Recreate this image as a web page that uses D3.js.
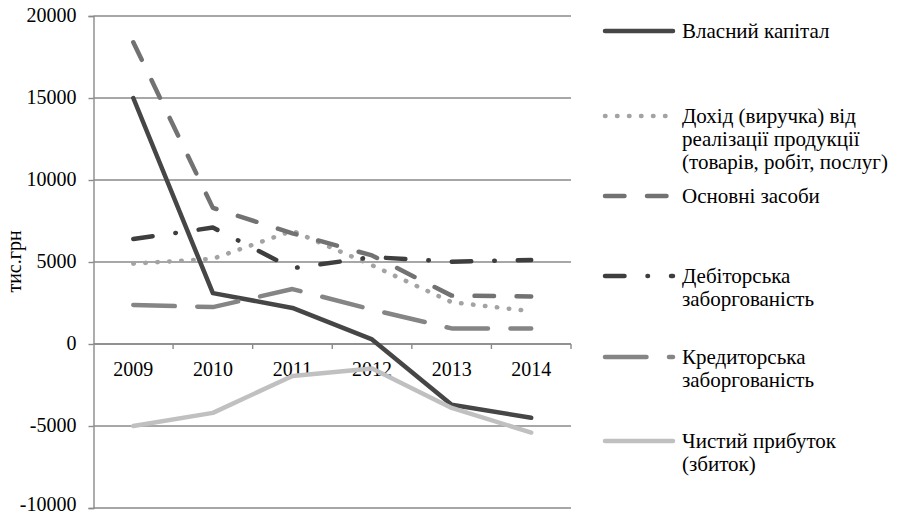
<!DOCTYPE html>
<html>
<head>
<meta charset="utf-8">
<script src="https://cdn.jsdelivr.net/npm/d3@7"></script>
<style>
  html, body { margin: 0; padding: 0; background: #fff; }
  svg { display: block; }
</style>
</head>
<body>
<svg id="chart" width="902" height="516"></svg>
<script>
// Years on the category axis
const years = ["2009", "2010", "2011", "2012", "2013", "2014"];

// Series values, тис.грн
const equity      = [15000, 3100, 2200, 280, -3700, -4500];
const revenue     = [4900, 5200, 6900, 4800, 2550, 2000];
const fixedAssets = [18400, 8300, 6750, 5400, 2950, 2900];
const receivables = [6400, 7100, 4620, 5300, 5020, 5120];
const payables    = [2380, 2250, 3350, 2100, 950, 950];
const netProfit   = [-5000, -4200, -1950, -1500, -3900, -5400];

// Value axis ticks
const yTicks = [-10000, -5000, 0, 5000, 10000, 15000, 20000];

// Legend labels (line breaks as wrapped in the legend)
const seriesNames = [
  ["Власний капітал"],
  ["Дохід (виручка) від", "реалізації продукції", "(товарів, робіт, послуг)"],
  ["Основні засоби"],
  ["Дебіторська", "заборгованість"],
  ["Кредиторська", "заборгованість"],
  ["Чистий прибуток", "(збиток)"]
];
const seriesValues = [equity, revenue, fixedAssets, receivables, payables, netProfit];

// Line styles per series
const styles = [
  { color: "#464646", dash: null },
  { color: "#a3a3a3", dash: "0.5,11.5" },
  { color: "#727272", dash: "19.5,22.5" },
  { color: "#3e3e3e", dash: "19.5,23,0.5,23" },
  { color: "#858585", dash: "41.5,22.5" },
  { color: "#c0c0c0", dash: null }
];
const lineWidth = 4.5;
const FONT = "'Liberation Serif', 'Times New Roman', serif";

const svg = d3.select("#chart");
const plot = { left: 93.5, right: 571, top: 16, bottom: 508 };

const x = d3.scaleBand().domain(years).range([plot.left, plot.right]).paddingInner(0).paddingOuter(0);
const y = d3.scaleLinear().domain([-10000, 20000]).range([plot.bottom, plot.top]);
const cx = d => x(d) + x.bandwidth() / 2;

const gridColor = "#8a8a8a";

// Horizontal gridlines
svg.append("g")
  .selectAll("line")
  .data(yTicks)
  .join("line")
  .attr("x1", plot.left).attr("x2", plot.right)
  .attr("y1", d => y(d)).attr("y2", d => y(d))
  .attr("stroke", gridColor).attr("stroke-width", 1.4);

// Value axis with outward ticks (plain hyphen for negatives)
const yAxis = svg.append("g")
  .attr("transform", `translate(${plot.left},0)`)
  .call(d3.axisLeft(y).tickValues(yTicks).tickSize(5).tickPadding(12).tickFormat(d => String(d)));
yAxis.attr("font-family", FONT).attr("font-size", 20);
yAxis.select(".domain").attr("stroke", gridColor).attr("stroke-width", 1.4);
yAxis.selectAll(".tick line").attr("stroke", gridColor).attr("stroke-width", 1.4);
// lowest label sits against the bottom edge, so lift it a little
yAxis.selectAll(".tick text").attr("fill", "#000")
  .attr("dy", d => d === yTicks[0] ? "0.12em" : "0.27em");

// Category axis along zero, ticks at band boundaries
const xAxisG = svg.append("g").attr("font-family", FONT).attr("font-size", 20);
xAxisG.append("line")
  .attr("x1", plot.left).attr("x2", plot.right)
  .attr("y1", y(0)).attr("y2", y(0))
  .attr("stroke", gridColor).attr("stroke-width", 1.4);
const boundaries = years.map(d => x(d)).concat([plot.right]).slice(1);
xAxisG.selectAll("line.tk")
  .data(boundaries)
  .join("line")
  .attr("class", "tk")
  .attr("x1", d => d).attr("x2", d => d)
  .attr("y1", y(0)).attr("y2", y(0) + 5)
  .attr("stroke", gridColor).attr("stroke-width", 1.4);
xAxisG.selectAll("text")
  .data(years)
  .join("text")
  .attr("x", d => cx(d))
  .attr("y", y(0) + 32)
  .attr("text-anchor", "middle")
  .text(d => d);

// Axis title
svg.append("text")
  .attr("transform", `translate(21,${(y(0) + y(10000)) / 2 - 0.5}) rotate(-90)`)
  .attr("text-anchor", "middle")
  .attr("font-family", FONT)
  .attr("font-size", 20)
  .text("тис.грн");

// Series lines
const line = d3.line().x((d, i) => cx(years[i])).y(d => y(d));
svg.append("g")
  .selectAll("path")
  .data(seriesValues)
  .join("path")
  .attr("d", d => line(d))
  .attr("fill", "none")
  .attr("stroke", (d, i) => styles[i].color)
  .attr("stroke-width", lineWidth)
  .attr("stroke-linecap", "round")
  .attr("stroke-linejoin", "round")
  .attr("stroke-dasharray", (d, i) => styles[i].dash);

// Legend
const legendBaselines = [38, 123, 203, 283, 364, 448];
const legend = svg.append("g").attr("font-family", FONT).attr("font-size", 21);
seriesNames.forEach((lines, i) => {
  const b = legendBaselines[i];
  legend.append("line")
    .attr("x1", 605).attr("x2", 673)
    .attr("y1", b - 7).attr("y2", b - 7)
    .attr("stroke", styles[i].color)
    .attr("stroke-width", lineWidth)
    .attr("stroke-linecap", "round")
    .attr("stroke-dasharray", styles[i].dash);
  const t = legend.append("text").attr("x", 682).attr("y", b);
  lines.forEach((s, k) => {
    t.append("tspan").attr("x", 682).attr("dy", k === 0 ? 0 : 23).text(s);
  });
});
</script>
</body>
</html>
